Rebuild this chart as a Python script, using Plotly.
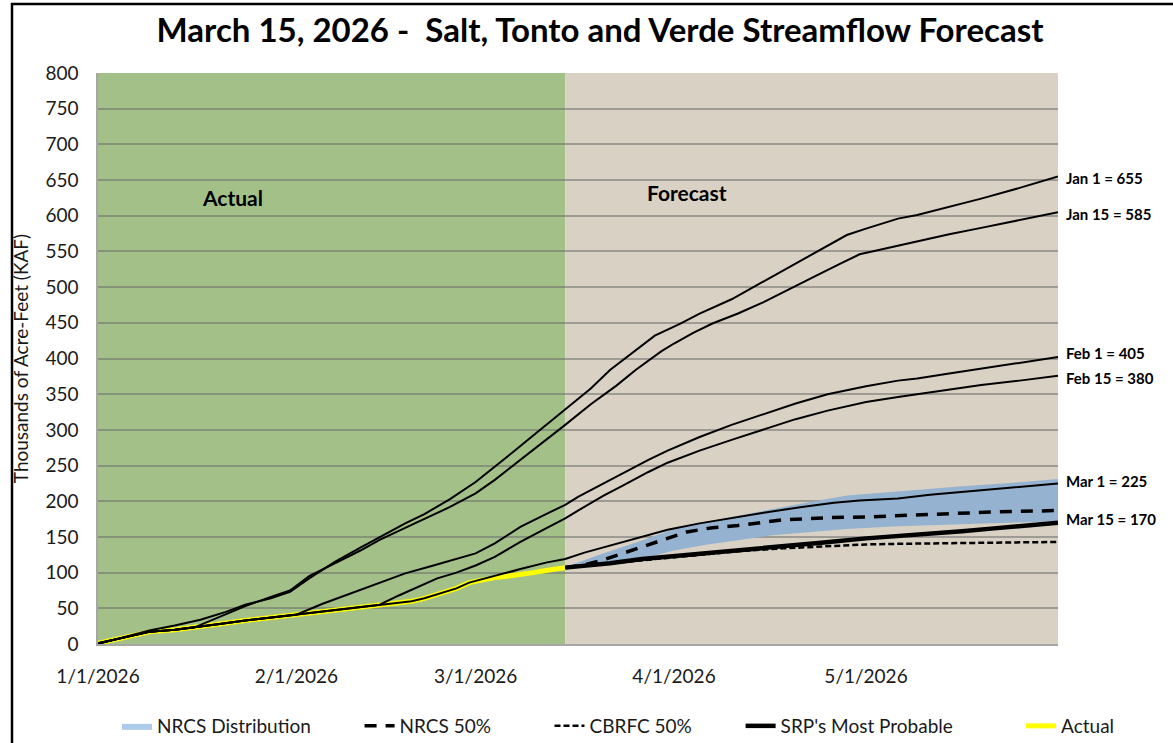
import pandas as pd
import plotly.graph_objects as go

# ---------------- data (day offsets from 1/1/2026, values in KAF) ----------------
start_date = "2026-01-01"

actual_days = [0, 4, 8, 12, 15, 19, 23, 27, 31, 35, 38, 41, 44, 47, 49, 51, 53, 56, 58, 60, 62, 64, 66, 68, 70, 73]
actual_vals = [1, 9, 17, 20, 23, 28, 33, 37, 41, 45, 49, 52, 55, 58, 60, 64, 70, 78, 86, 90, 93, 95, 97, 100, 103, 107]

jan1_days = [0, 4, 8, 12, 16, 20, 23, 27, 30, 33, 37, 41, 44, 48, 51, 55, 59, 62, 65, 68, 71, 73, 77, 80, 84, 87,
             91, 94, 99, 102, 106, 109, 113, 117, 120, 125, 128, 133, 138, 144, 150]
jan1_vals = [0, 10, 19, 26, 34, 45, 55, 64, 73, 92, 115, 135, 150, 169, 182, 203, 227, 248, 270, 292, 314, 328, 358,
             384, 412, 432, 449, 463, 483, 498, 517, 533, 553, 573, 582, 596, 601, 612, 624, 639, 655]

jan15_days = [0, 4, 8, 12, 15, 19, 23, 27, 30, 33, 37, 41, 44, 47, 50, 55, 59, 62, 64, 68, 71, 73, 77, 81, 84, 88,
              90, 93, 96, 100, 104, 109, 112, 116, 119, 122, 125, 128, 133, 138, 144, 150]
jan15_vals = [1, 9, 17, 20, 23, 38, 53, 66, 75, 95, 113, 131, 146, 159, 171, 192, 211, 230, 244, 271, 293, 307, 336,
              362, 384, 410, 421, 436, 449, 463, 479, 502, 515, 533, 546, 552, 558, 565, 574, 583, 594, 605]

feb1_days = [0, 4, 8, 12, 15, 19, 23, 27, 31, 35, 38, 41, 44, 48, 52, 55, 59, 62, 66, 70, 73, 75, 79, 82, 86, 89,
             94, 99, 104, 109, 114, 117, 120, 125, 128, 133, 138, 144, 150]
feb1_vals = [1, 9, 17, 20, 23, 28, 33, 37, 41, 56, 66, 76, 86, 99, 109, 117, 127, 141, 164, 182, 195, 206, 225, 240,
             258, 271, 290, 307, 322, 337, 350, 356, 361, 369, 372, 379, 386, 394, 402]

feb15_days = [0, 4, 8, 12, 15, 19, 23, 27, 31, 35, 38, 41, 44, 47, 50, 53, 56, 59, 62, 66, 70, 73, 75, 79, 82, 86,
              89, 94, 99, 104, 109, 114, 117, 120, 125, 128, 133, 138, 144, 150]
feb15_vals = [1, 9, 17, 20, 23, 28, 33, 37, 41, 45, 49, 52, 55, 68, 80, 92, 100, 110, 122, 143, 162, 176, 187, 208,
              222, 241, 254, 271, 286, 301, 315, 327, 333, 339, 346, 350, 356, 363, 369, 376]

mar1_days = [0, 4, 8, 12, 15, 19, 23, 27, 31, 35, 38, 41, 44, 47, 49, 51, 53, 56, 58, 62, 66, 70, 73, 76, 80, 84,
             89, 94, 99, 104, 110, 115, 119, 125, 130, 135, 140, 145, 150]
mar1_vals = [1, 9, 17, 20, 23, 28, 33, 37, 41, 45, 49, 52, 55, 58, 60, 64, 70, 78, 86, 96, 105, 114, 119, 128, 138,
             148, 160, 169, 177, 184, 192, 198, 201, 204, 209, 213, 217, 221, 225]

srp_days = [73, 80, 85, 90, 95, 100, 107, 113, 120, 125, 130, 135, 140, 145, 150]
srp_vals = [107, 113, 119, 123, 127, 131, 136, 142, 148, 151, 155, 158, 162, 166, 170]

cbrfc_days = [73, 80, 85, 90, 95, 100, 107, 113, 120, 126, 132, 140, 150]
cbrfc_vals = [107, 113, 118, 122, 126, 130, 134, 137, 139.5, 140.5, 141, 142, 143]

nrcs_days = [73, 76, 79, 82, 85, 88, 92, 96, 100, 107, 114, 120, 126, 132, 140, 150]
nrcs_vals = [107, 111, 118, 127, 136, 145, 157, 163, 166, 174, 177, 178, 180, 182, 185, 187]

band_days = [73, 78, 85, 90, 95, 100, 105, 110, 117, 125, 135, 143, 150]
band_hi = [108, 124, 145, 161, 171, 180, 189, 197, 208, 214, 221, 226, 231]
band_lo = [106, 110, 119, 131, 139, 146, 152, 156, 161, 165, 168, 170, 172]

tick_dates = ["2026-01-01", "2026-02-01", "2026-03-01", "2026-04-01", "2026-05-01"]
tick_text = ["1/1/2026", "2/1/2026", "3/1/2026", "4/1/2026", "5/1/2026"]

end_labels = ["Jan 1 = 655", "Jan 15 = 585", "Feb 1 = 405", "Feb 15 = 380", "Mar 1 = 225", "Mar 15 = 170"]
end_label_y = [653, 602, 408, 373, 228, 175]

legend_names = ["NRCS Distribution", "NRCS 50%", "CBRFC 50%", "SRP's Most Probable", "Actual"]

title_text = "March 15, 2026 -\u00a0 Salt, Tonto and Verde Streamflow Forecast"
cutoff_date = "2026-03-15"
x_end = "2026-05-31"

# ---------------- helpers ----------------
base = pd.Timestamp(start_date)


def to_dates(days):
    return [(base + pd.Timedelta(days=d)).strftime("%Y-%m-%d") for d in days]


FONT = "Lato, 'Open Sans', sans-serif"
W, H = 1173, 743
ML, MR, MT, MB = 98, 115, 73, 99
PW, PH = W - ML - MR, H - MT - MB
NB = "\u00a0"
legend_pad = [9, 11, 9, 13, 0]  # spacing after each legend entry
leg = [n + NB * p for n, p in zip(legend_names, legend_pad)]


def px_x(p):
    return (p - ML) / PW


def px_y(p):
    return (H - MB - p) / PH


fig = go.Figure()

# NRCS distribution band
fig.add_trace(go.Scatter(x=to_dates(band_days), y=band_lo, mode="lines", line=dict(width=0),
                         showlegend=False, hoverinfo="skip"))
fig.add_trace(go.Scatter(x=to_dates(band_days), y=band_hi, mode="lines", line=dict(width=0),
                         fill="tonexty", fillcolor="#95B3D0", showlegend=False, hoverinfo="skip"))
# legend entry for the band
fig.add_trace(go.Scatter(x=[None], y=[None], mode="lines", line=dict(width=0, color="#ADCBEA"),
                         fill="toself", fillcolor="#ADCBEA", name=leg[0], legendrank=1))

# Actual (yellow)
fig.add_trace(go.Scatter(x=to_dates(actual_days), y=actual_vals, mode="lines",
                         line=dict(color="#FFFF00", width=5), name=leg[4], legendrank=5))

# Historical forecasts
for days, vals in [(jan1_days, jan1_vals), (jan15_days, jan15_vals), (feb1_days, feb1_vals),
                   (feb15_days, feb15_vals), (mar1_days, mar1_vals)]:
    fig.add_trace(go.Scatter(x=to_dates(days), y=vals, mode="lines",
                             line=dict(color="black", width=2), showlegend=False))

fig.add_trace(go.Scatter(x=to_dates(nrcs_days), y=nrcs_vals, mode="lines",
                         line=dict(color="black", width=3.5, dash="12px,9px"), name=leg[1], legendrank=2))
fig.add_trace(go.Scatter(x=to_dates(cbrfc_days), y=cbrfc_vals, mode="lines",
                         line=dict(color="black", width=2.5, dash="6px,3px"), name=leg[2], legendrank=3))
fig.add_trace(go.Scatter(x=to_dates(srp_days), y=srp_vals, mode="lines",
                         line=dict(color="black", width=4.5), name=leg[3], legendrank=4))

shapes = [
    dict(type="rect", xref="x", yref="paper", x0=start_date, x1=cutoff_date, y0=0, y1=1,
         fillcolor="#A3C088", line=dict(width=0), layer="below"),
    dict(type="rect", xref="x", yref="paper", x0=cutoff_date, x1=x_end, y0=0, y1=1,
         fillcolor="#D9D2C4", line=dict(width=0), layer="below"),
    # outer frame
    dict(type="line", xref="paper", yref="paper", x0=px_x(12), x1=px_x(12), y0=px_y(3), y1=px_y(H + 5),
         line=dict(color="black", width=2.5)),
    dict(type="line", xref="paper", yref="paper", x0=px_x(11), x1=px_x(W + 5), y0=px_y(4), y1=px_y(4),
         line=dict(color="black", width=2.5)),
]

annotations = [
    dict(text="<b>Actual</b>", x="2026-01-22", y=625, xref="x", yref="y", showarrow=False,
         font=dict(size=21, color="black", family=FONT)),
    dict(text="<b>Forecast</b>", x="2026-04-03", y=632, xref="x", yref="y", showarrow=False,
         font=dict(size=21, color="black", family=FONT)),
]
for txt, yv in zip(end_labels, end_label_y):
    annotations.append(dict(text="<b>" + txt + "</b>", x=1.006, y=yv, xref="paper", yref="y",
                            xanchor="left", showarrow=False, font=dict(size=15, color="black", family=FONT)))

fig.update_layout(
    width=W, height=H,
    margin=dict(l=ML, r=MR, t=MT, b=MB, autoexpand=False),
    paper_bgcolor="white", plot_bgcolor="rgba(0,0,0,0)",
    font=dict(family=FONT, color="#1a1a1a", size=19),
    title=dict(text="<b>" + title_text + "</b>", x=600 / W, y=1 - 30 / H, xanchor="center",
               yanchor="middle", font=dict(size=33, color="black", family=FONT)),
    showlegend=True,
    legend=dict(orientation="h", x=px_x(1120), y=px_y(726), xanchor="right", yanchor="middle",
                font=dict(size=19, color="#1a1a1a", family=FONT), bgcolor="rgba(0,0,0,0)",
                traceorder="normal"),
    shapes=shapes,
    annotations=annotations,
    hovermode=False,
)

fig.update_xaxes(type="date", range=[start_date, x_end], tickvals=tick_dates, ticktext=tick_text,
                 showgrid=False, showline=True, linecolor="#a6a6a6", linewidth=1.5, ticks="",
                 ticklabelstandoff=14, tickfont=dict(size=19), zeroline=False, automargin=False)
fig.update_yaxes(range=[0, 800], dtick=50, showgrid=True, gridcolor="rgba(110,110,110,0.55)", gridwidth=1.5,
                 showline=True, linecolor="#a6a6a6", linewidth=1.5, ticks="", ticklabelstandoff=14,
                 tickfont=dict(size=19), zeroline=False, automargin=False,
                 title=dict(text="Thousands of Acre-Feet (KAF)", font=dict(size=19, color="#1a1a1a"), standoff=12))

fig.write_html("out.html", config={"displayModeBar": False},
               post_script="document.body.style.margin='0';")
